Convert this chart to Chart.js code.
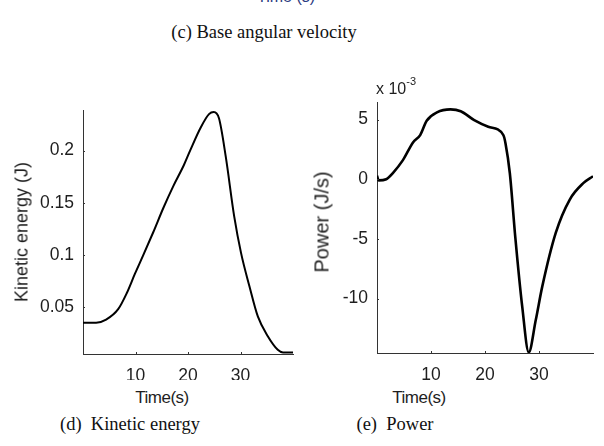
<!DOCTYPE html>
<html>
<head>
<meta charset="utf-8">
<script src="https://cdn.jsdelivr.net/npm/chart.js@4.4.1/dist/chart.umd.min.js"></script>
<style>
  html, body { margin: 0; padding: 0; background: #fff; }
  body { width: 604px; height: 446px; position: relative; overflow: hidden; }
  .box { position: absolute; }
  .sans { font-family: "Liberation Sans", Arial, sans-serif; color: #1e1e1e; position: absolute; white-space: nowrap; }
  .serif { font-family: "Liberation Serif", "Times New Roman", serif; color: #111; position: absolute; white-space: nowrap; font-size: 18.5px; }
  .rot { transform-origin: center center; transform: translate(-50%, -50%) rotate(-90deg); }
</style>
</head>
<body>
<div class="sans" style="left:257px; top:-12px; font-size:16px; color:#2a3a80;">Time (s)</div>
<div class="serif" style="left:264px; top:22px; transform:translateX(-50%);">(c) Base angular velocity</div>

<div class="box" style="left:0; top:60px; width:300px; height:320px;"><canvas id="c1"></canvas></div>
<div class="box" style="left:300px; top:60px; width:304px; height:320px;"><canvas id="c2"></canvas></div>

<div class="sans rot" style="left:22px; top:232px; font-size:18px;">Kinetic energy (J)</div>
<div class="sans rot" style="left:322px; top:222px; font-size:20px;">Power (J/s)</div>
<div class="sans" style="left:376px; top:78px; font-size:16px;">x 10<sup style="font-size:11px; position:relative; top:-3px;">-3</sup></div>

<div class="sans" style="left:162px; top:388px; font-size:17px; transform:translateX(-50%); letter-spacing:-0.5px;">Time(s)</div>
<div class="sans" style="left:419px; top:388px; font-size:17px; transform:translateX(-50%); letter-spacing:-0.5px;">Time(s)</div>

<div class="serif" style="left:130px; top:414px; transform:translateX(-50%);">(d)&nbsp; Kinetic energy</div>
<div class="serif" style="left:395px; top:414px; transform:translateX(-50%);">(e)&nbsp; Power</div>

<script>
// ---- data ----
const energyTime = [0, 1, 2.5, 4.4, 6.7, 8.3, 9.9, 11.5, 13.4, 15.3, 17.2, 19.2, 20.4, 22.4, 24, 24.9, 25.9, 27.2, 28.8, 30.1, 31.7, 33.3, 35.2, 37.1, 38.1, 40];
const energyValues = [0.035, 0.035, 0.035, 0.038, 0.048, 0.063, 0.082, 0.100, 0.122, 0.145, 0.166, 0.186, 0.200, 0.222, 0.235, 0.237, 0.231, 0.194, 0.137, 0.102, 0.070, 0.041, 0.022, 0.009, 0.0065, 0.0065];
const powerTime = [0, 0.3, 1.7, 2.9, 4.8, 6.7, 8, 9.2, 11.1, 13.6, 15.5, 18, 20.6, 23.4, 23.8, 24.6, 25.6, 26.9, 28.1, 29.4, 30.6, 33.1, 35.7, 38.2, 40];
const powerValues = [0.3, -0.1, 0, 0.5, 1.6, 3.1, 3.7, 4.9, 5.6, 5.85, 5.7, 4.95, 4.4, 3.7, 3.0, 0.5, -4.8, -10.7, -14.5, -11.8, -9.0, -4.5, -1.7, -0.33, 0.25]; // x 10^-3
const timeTicks = [10, 20, 30];
const energyTicks = [0.05, 0.1, 0.15, 0.2];
const energyTickLabels = ["0.05", "0.1", "0.15", "0.2"];
const powerTicks = [-10, -5, 0, 5];
const powerTickLabels = ["-10", "-5", "0", "5"];

const tickFont = { family: '"Liberation Sans", Arial, sans-serif', size: 17.5 };
const textColor = '#1e1e1e';
const axisColor = '#333';

// small inward tick marks
const innerTicks = {
  id: 'innerTicks',
  afterDraw(chart) {
    const ctx = chart.ctx, a = chart.chartArea;
    ctx.save();
    ctx.strokeStyle = axisColor; ctx.lineWidth = 1;
    const xs = chart.scales.x, ys = chart.scales.y;
    xs.ticks.forEach(t => { const p = Math.round(xs.getPixelForValue(t.value)) + 0.5; ctx.beginPath(); ctx.moveTo(p, a.bottom); ctx.lineTo(p, a.bottom - 2); ctx.stroke(); });
    ys.ticks.forEach(t => { const p = Math.round(ys.getPixelForValue(t.value)) + 0.5; ctx.beginPath(); ctx.moveTo(a.left, p); ctx.lineTo(a.left + 2, p); ctx.stroke(); });
    ctx.restore();
  }
};

function makeChart(id, times, values, yMin, yMax, yTicks, yLabels, pad, yWidth, xHeight, lw) {
  return new Chart(document.getElementById(id), {
    type: 'line',
    data: { datasets: [{ data: times.map((t, i) => ({ x: t, y: values[i] })), borderColor: '#000', borderWidth: lw, pointRadius: 0, cubicInterpolationMode: 'monotone', fill: false }] },
    options: {
      responsive: true, maintainAspectRatio: false, animation: false,
      layout: { padding: pad },
      plugins: { legend: { display: false }, tooltip: { enabled: false } },
      scales: {
        x: {
          type: 'linear', min: 0, max: 40,
          afterBuildTicks: s => { s.ticks = timeTicks.map(v => ({ value: v })); },
          afterFit: s => { s.height = xHeight; },
          grid: { display: false, drawTicks: false },
          border: { display: true, color: axisColor, width: 1 },
          ticks: { font: tickFont, color: textColor, padding: 12, maxRotation: 0, autoSkip: false }
        },
        y: {
          type: 'linear', min: yMin, max: yMax,
          afterBuildTicks: s => { s.ticks = yTicks.map(v => ({ value: v })); },
          afterFit: s => { s.width = yWidth; },
          grid: { display: false, drawTicks: false },
          border: { display: true, color: axisColor, width: 1 },
          ticks: { font: tickFont, color: textColor, padding: 9, autoSkip: false,
                   callback: (v) => { const i = yTicks.indexOf(v); return i >= 0 ? yLabels[i] : ''; } }
        }
      }
    },
    plugins: [innerTicks]
  });
}

makeChart('c1', energyTime, energyValues, 0.005, 0.239, energyTicks, energyTickLabels,
  { left: 0, right: 7, top: 50, bottom: 0 }, 83, 26, 2);
makeChart('c2', powerTime, powerValues, -14.56, 6.47, powerTicks, powerTickLabels,
  { left: 0, right: 11, top: 42, bottom: 0 }, 77, 27, 2.6);
</script>
</body>
</html>
